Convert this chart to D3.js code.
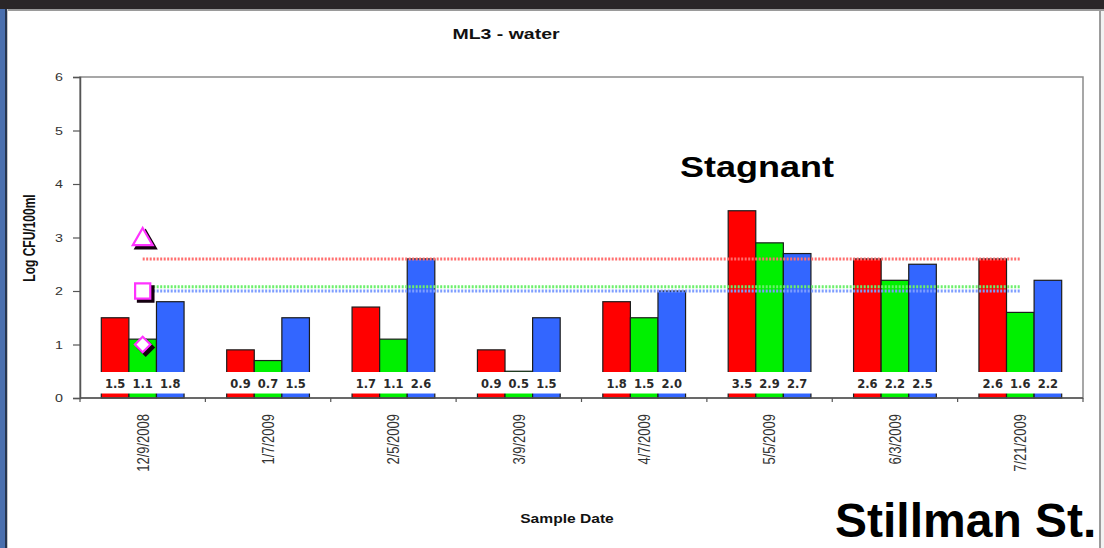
<!DOCTYPE html>
<html>
<head>
<meta charset="utf-8">
<script src="https://cdn.jsdelivr.net/npm/d3@7"></script>
<style>
  html, body { margin: 0; padding: 0; background: #ffffff; }
  svg { display: block; }
</style>
</head>
<body>
<script>
// Sample dates (category axis)
const categories = ["12/9/2008", "1/7/2009", "2/5/2009", "3/9/2009", "4/7/2009", "5/5/2009", "6/3/2009", "7/21/2009"];

// Log CFU/100ml results, three indicator series
const seriesKeys = ["red", "green", "blue"];
const valuesRed   = [1.5, 0.9, 1.7, 0.9, 1.8, 3.5, 2.6, 2.6];
const valuesGreen = [1.1, 0.7, 1.1, 0.5, 1.5, 2.9, 2.2, 1.6];
const valuesBlue  = [1.8, 1.5, 2.6, 1.5, 2.0, 2.7, 2.5, 2.2];

// Guideline levels drawn as dotted lines (log10 of 400, 120 and 100)
const limitRed   = [2.60, 2.60, 2.60, 2.60, 2.60, 2.60, 2.60, 2.60];
const limitGreen = [2.08, 2.08, 2.08, 2.08, 2.08, 2.08, 2.08, 2.08];
const limitBlue  = [2.00, 2.00, 2.00, 2.00, 2.00, 2.00, 2.00, 2.00];

// Marker levels on the first sample date
const markerLevels = [3, 2, 1];
const markerShapes = ["triangle", "square", "diamond"];

// Value axis ticks
const yTicks = [0, 1, 2, 3, 4, 5, 6];

const W = 1104, H = 548;
const SANS = "'Liberation Sans', Arial, sans-serif";
const LABEL = "'DejaVu Sans', Verdana, sans-serif";
const SX = 1.3; // horizontal text stretch of the chart's own lettering

const svg = d3.select("body").append("svg").attr("width", W).attr("height", H);

// ---- slide frame ----
svg.append("rect").attr("x", 0).attr("y", 0).attr("width", W).attr("height", H).attr("fill", "#ffffff");
svg.append("rect").attr("x", 0).attr("y", 0).attr("width", W).attr("height", 9).attr("fill", "#2a2628");
svg.append("rect").attr("x", 0).attr("y", 9).attr("width", W).attr("height", 2).attr("fill", "#9a9a9a");
svg.append("rect").attr("x", 0).attr("y", 9).attr("width", 5).attr("height", H - 9).attr("fill", "#4a6fae");
svg.append("rect").attr("x", 5).attr("y", 9).attr("width", 2).attr("height", H - 9).attr("fill", "#27354f");
svg.append("rect").attr("x", 7).attr("y", 9).attr("width", 1).attr("height", H - 9).attr("fill", "#c8c8c8");
svg.append("rect").attr("x", 1099).attr("y", 11).attr("width", 2).attr("height", H - 11).attr("fill", "#9c9c9c");
svg.append("rect").attr("x", 1101).attr("y", 11).attr("width", 3).attr("height", H - 11).attr("fill", "#f2f2f2");

// ---- scales ----
const plot = { left: 80, right: 1083, top: 77, bottom: 398 };
const y = d3.scaleLinear().domain([0, 6]).range([plot.bottom, plot.top]);
const x0 = d3.scaleBand().domain(categories).range([plot.left, plot.right]);
const bw = x0.bandwidth();
const groupW = bw * 0.66;
const x1 = d3.scaleBand().domain(seriesKeys).range([0, groupW]);
const colors = { red: "#ff0000", green: "#00f000", blue: "#3366ff" };
const cx = c => x0(c) + bw / 2;
const gx = c => x0(c) + (bw - groupW) / 2;

// ---- title ----
svg.append("text")
  .attr("transform", `translate(506,39) scale(${SX},1)`)
  .attr("text-anchor", "middle")
  .style("font-family", SANS).style("font-weight", "bold").style("font-size", "15px")
  .attr("fill", "#111").text("ML3 - water");

// ---- plot frame ----
svg.append("rect")
  .attr("x", plot.left).attr("y", plot.top)
  .attr("width", plot.right - plot.left).attr("height", plot.bottom - plot.top)
  .attr("fill", "none").attr("stroke", "#8a8a8a").attr("stroke-width", 1.5);

// ---- y axis ----
const yAxis = svg.append("g")
  .attr("transform", `translate(${plot.left},0)`)
  .call(d3.axisLeft(y).tickValues(yTicks).tickSize(7).tickFormat(d3.format("d")));
yAxis.select(".domain").attr("stroke", "#555").attr("stroke-width", 1.5);
yAxis.selectAll(".tick line").attr("stroke", "#555").attr("stroke-width", 1.2);
yAxis.selectAll(".tick text")
  .attr("x", -17 / SX)
  .attr("transform", `scale(${SX},1)`)
  .style("font-family", SANS).style("font-size", "11px").attr("fill", "#333");

svg.append("text")
  .attr("transform", `translate(35,238) scale(${SX},1) rotate(-90)`)
  .attr("text-anchor", "middle")
  .style("font-family", SANS).style("font-weight", "bold").style("font-size", "12px")
  .attr("fill", "#111").text("Log CFU/100ml");

// ---- bars ----
const rows = categories.map((c, i) => ({
  cat: c,
  vals: [
    { key: "red", v: valuesRed[i] },
    { key: "green", v: valuesGreen[i] },
    { key: "blue", v: valuesBlue[i] }
  ]
}));

const groups = svg.append("g").selectAll("g").data(rows).join("g")
  .attr("transform", d => `translate(${gx(d.cat)},0)`);

groups.selectAll("rect.bar").data(d => d.vals).join("rect")
  .attr("class", "bar")
  .attr("x", d => x1(d.key))
  .attr("width", x1.bandwidth())
  .attr("y", d => y(d.v))
  .attr("height", d => y(0) - y(d.v))
  .attr("fill", d => colors[d.key])
  .attr("stroke", "#1c1c1c").attr("stroke-width", 1.2);

// label strip over the lower part of each group
groups.append("rect")
  .attr("x", -1.5).attr("width", groupW + 3)
  .attr("y", y(0.486)).attr("height", y(0.084) - y(0.486))
  .attr("fill", "#ffffff");

groups.selectAll("text.val").data(d => d.vals).join("text")
  .attr("class", "val")
  .attr("x", d => x1(d.key) + x1.bandwidth() / 2)
  .attr("y", 387.5)
  .attr("text-anchor", "middle")
  .style("font-family", LABEL).style("font-weight", "bold").style("font-size", "11.5px")
  .attr("fill", "#2a2a2a")
  .text(d => d3.format(".1f")(d.v));

// ---- x axis ticks at category boundaries ----
const xb = svg.append("g");
xb.selectAll("line").data(categories.concat([null])).join("line")
  .attr("x1", d => d === null ? plot.right : x0(d))
  .attr("x2", d => d === null ? plot.right : x0(d))
  .attr("y1", plot.bottom).attr("y2", plot.bottom + 4)
  .attr("stroke", "#555").attr("stroke-width", 1.2);
svg.append("line")
  .attr("x1", plot.left).attr("x2", plot.right)
  .attr("y1", plot.bottom).attr("y2", plot.bottom)
  .attr("stroke", "#555").attr("stroke-width", 1.5);

svg.append("g").selectAll("text").data(categories).join("text")
  .attr("transform", d => `translate(${cx(d)},414) scale(${SX},1) rotate(-90)`)
  .attr("text-anchor", "end")
  .attr("dy", "0.35em")
  .style("font-family", SANS).style("font-size", "13px")
  .attr("fill", "#333")
  .text(d => d);

svg.append("text")
  .attr("transform", `translate(567,523) scale(${SX},1)`)
  .attr("text-anchor", "middle")
  .style("font-family", SANS).style("font-weight", "bold").style("font-size", "12px")
  .attr("fill", "#111").text("Sample Date");

// ---- guideline lines ----
const line = d3.line().x((v, i) => cx(categories[i])).y(v => y(v));
[[limitBlue, "#7d9dff"], [limitGreen, "#6cf06c"], [limitRed, "#ff6f6f"]].forEach(([vals, col]) => {
  svg.append("path")
    .datum(vals)
    .attr("d", line)
    .attr("fill", "none")
    .attr("stroke", col)
    .attr("stroke-width", 3)
    .attr("stroke-dasharray", "2,1.5");
});

// ---- markers on first date ----
const symFor = s => s === "triangle" ? d3.symbol(d3.symbolTriangle, 170)
  : d3.symbol(d3.symbolSquare, s === "square" ? 230 : 120);
const mx = cx(categories[0]);
markerLevels.forEach((lv, i) => {
  const shape = markerShapes[i];
  const rot = shape === "diamond" ? 45 : 0;
  const yy = y(lv) + (shape === "triangle" ? 2 : 0);
  svg.append("path")
    .attr("d", symFor(shape)())
    .attr("transform", `translate(${mx + 3},${yy + 3}) rotate(${rot})`)
    .attr("fill", "#150010").attr("stroke", "#150010").attr("stroke-width", 2.5);
  svg.append("path")
    .attr("d", symFor(shape)())
    .attr("transform", `translate(${mx},${yy}) rotate(${rot})`)
    .attr("fill", "#ffffff").attr("stroke", "#ff33ff").attr("stroke-width", 2.2);
});

// ---- slide annotations ----
svg.append("text")
  .attr("transform", "translate(680,177) scale(1.2,1)")
  .style("font-family", SANS).style("font-weight", "bold").style("font-size", "30px")
  .attr("fill", "#000").text("Stagnant");

svg.append("text")
  .attr("x", 835).attr("y", 537)
  .style("font-family", SANS).style("font-weight", "bold").style("font-size", "48px")
  .attr("fill", "#000").text("Stillman St.");
</script>
</body>
</html>
